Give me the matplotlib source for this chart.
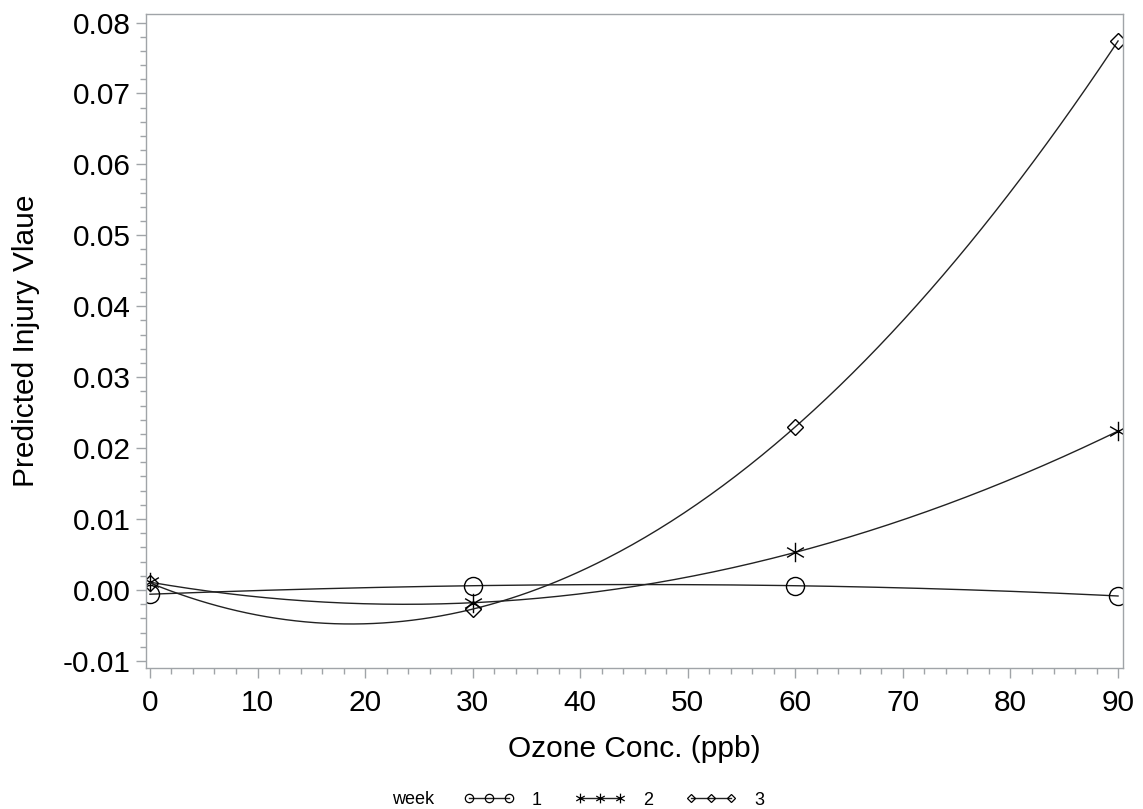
import numpy as np
import matplotlib
matplotlib.use("Agg")
import matplotlib.pyplot as plt
from matplotlib.path import Path
from matplotlib.lines import Line2D
from matplotlib.ticker import MultipleLocator, FormatStrFormatter

plt.rcParams['font.family'] = ['Liberation Sans', 'DejaVu Sans']

# ---- data ----
ozone = [0, 30, 60, 90]
weeks = ['1', '2', '3']
week1 = [-0.0006, 0.0006, 0.0006, -0.00085]
week2 = [0.0011, -0.0018, 0.0053, 0.0224]
week3 = [0.0010, -0.0027, 0.0230, 0.0774]
xticks = [0, 10, 20, 30, 40, 50, 60, 70, 80, 90]
yticks = [-0.01, 0.00, 0.01, 0.02, 0.03, 0.04, 0.05, 0.06, 0.07, 0.08]

# asterisk marker (6 arms)
ang = np.deg2rad([90, 30, 150])
verts, codes = [], []
for a in ang:
    verts += [(np.cos(a), np.sin(a)), (-np.cos(a), -np.sin(a))]
    codes += [Path.MOVETO, Path.LINETO]
star = Path(verts, codes)

fig = plt.figure(figsize=(11.43, 8.09), dpi=100)
ax = fig.add_axes([0.1277, 0.1743, 0.9825 - 0.1277, 0.9827 - 0.1743])

styles = [
    dict(marker='o', ms=13, mfc='none'),
    dict(marker=star, ms=14, mfc='none'),
    dict(marker='D', ms=8.5, mfc='none'),
]
xs = np.linspace(min(ozone), max(ozone), 300)
for vals, st in zip([week1, week2, week3], styles):
    coef = np.polyfit(ozone, vals, 3)
    ax.plot(xs, np.polyval(coef, xs), color='#222222', lw=1.0)
    ax.plot(ozone, vals, linestyle='none', color='black', mec='black',
            mew=1.0, **st)

ax.set_xlim(-0.37, 90.46)
ax.set_ylim(-0.0110, 0.0812)
ax.set_xticks(xticks)
ax.set_yticks(yticks)
ax.xaxis.set_minor_locator(MultipleLocator(2))
ax.yaxis.set_minor_locator(MultipleLocator(0.002))
ax.yaxis.set_major_formatter(FormatStrFormatter('%.2f'))

gray = '#a0a4a8'
for s in ax.spines.values():
    s.set_color(gray)
    s.set_linewidth(1.0)
ax.tick_params(which='major', length=7, width=1, color=gray, labelsize=21.5, pad=4)
ax.tick_params(which='minor', length=4.5, width=1, color=gray)
ax.tick_params(axis='x', which='major', pad=8)

ax.set_xlabel('Ozone Conc. (ppb)', fontsize=21.5, labelpad=13)
ax.set_ylabel('Predicted Injury Vlaue', fontsize=21.5, labelpad=16)

# legend
handles = [
    Line2D([], [], color='#222222', lw=1, marker='o', ms=6, mfc='none', mec='black', mew=0.9),
    Line2D([], [], color='#222222', lw=1, marker=star, ms=7, mfc='none', mec='black', mew=0.9),
    Line2D([], [], color='#222222', lw=1, marker='D', ms=4, mfc='none', mec='black', mew=0.9),
]
fig.legend(handles, weeks, ncol=3, loc='center', bbox_to_anchor=(0.537, 0.0111),
           frameon=False, numpoints=3, handlelength=2.8, handletextpad=1.0,
           columnspacing=1.8, fontsize=13)
fig.text(392 / 1143, 1 - 800 / 809, 'week', fontsize=13, va='center', ha='left')

fig.savefig('out.png', dpi=100)
